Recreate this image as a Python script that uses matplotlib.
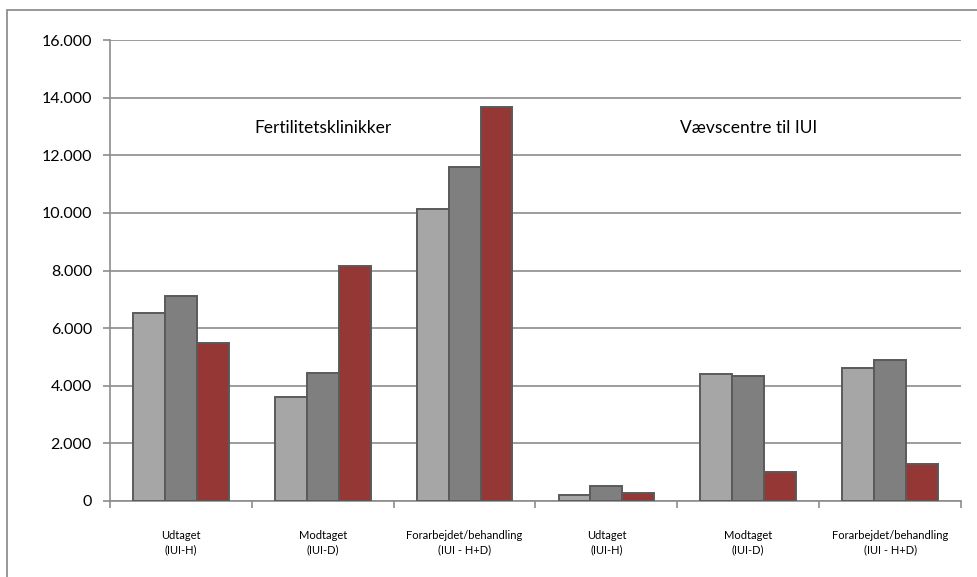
import matplotlib
matplotlib.use("Agg")
import matplotlib.pyplot as plt
from matplotlib.patches import Rectangle
from matplotlib.ticker import FuncFormatter, MultipleLocator
import numpy as np

plt.rcParams['font.family'] = ['Lato', 'DejaVu Sans']

categories = [
    "Udtaget\n(IUI-H)",
    "Modtaget\n(IUI-D)",
    "Forarbejdet/behandling\n(IUI - H+D)",
    "Udtaget\n(IUI-H)",
    "Modtaget\n(IUI-D)",
    "Forarbejdet/behandling\n(IUI - H+D)",
]
series_a = [6540, 3600, 10150, 210, 4410, 4630]
series_b = [7130, 4430, 11600, 530, 4350, 4900]
series_c = [5500, 8170, 13670, 290, 1010, 1300]
group_labels = ["Fertilitetsklinikker", "Vævscentre til IUI"]

colors = ["#A6A6A6", "#7F7F7F", "#953735"]
edge = "#5A5A5A"
grid_c = "#8C8C8C"

fig = plt.figure(figsize=(9.78, 5.77), dpi=100)
ax = fig.add_axes([110 / 978, 1 - 501 / 577, 851 / 978, 461 / 577])

# outer chart frame
fig.patches.append(Rectangle((7 / 978, -0.1), 1.2, 1 - 10 / 577 + 0.1,
                             transform=fig.transFigure, fill=False,
                             edgecolor="#868686", linewidth=1.2))

x = np.arange(len(categories))
w = 0.225
for i, (vals, c) in enumerate(zip([series_a, series_b, series_c], colors)):
    ax.bar(x + (i - 1) * w, vals, width=w, color=c, edgecolor=edge,
           linewidth=1.4, zorder=3)

ax.set_xlim(-0.5, len(categories) - 0.5)
ax.set_ylim(0, 16000)
ax.yaxis.set_major_locator(MultipleLocator(2000))
ax.yaxis.set_major_formatter(FuncFormatter(
    lambda v, p: "0" if v == 0 else f"{int(v):,}".replace(",", ".")))
ax.grid(axis="y", color=grid_c, linewidth=1.2, zorder=0)

ax.set_xticks(x)
ax.set_xticklabels(categories, fontsize=8, linespacing=1.35)
ax.tick_params(axis="x", length=0, pad=21)
ax.set_xticks(np.arange(-0.5, len(categories)), minor=True)
ax.tick_params(axis="x", which="minor", length=5, color=grid_c, width=1.2)
ax.tick_params(axis="y", length=5, color=grid_c, width=1.2, labelsize=11.5,
               pad=8)

for side in ["top", "right"]:
    ax.spines[side].set_visible(False)
for side in ["left", "bottom"]:
    ax.spines[side].set_color(grid_c)
    ax.spines[side].set_linewidth(1.2)

ax.text(1, 12950, group_labels[0], ha="center", va="center", fontsize=12.5)
ax.text(4, 12950, group_labels[1], ha="center", va="center", fontsize=12.5)

fig.savefig("out.png", dpi=100, facecolor="white")
